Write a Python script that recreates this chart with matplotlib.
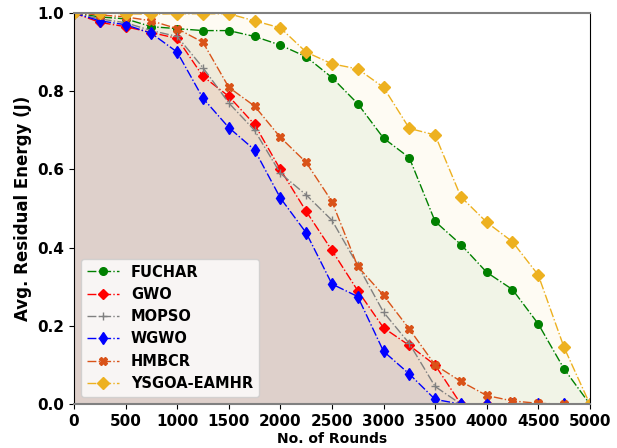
import numpy as np
import matplotlib.pyplot as plt

rounds = np.arange(0, 5001, 250)

fuchar = [1.0, 0.99, 0.985, 0.965, 0.96, 0.955, 0.955, 0.94, 0.918, 0.888, 0.835,
          0.768, 0.68, 0.63, 0.467, 0.408, 0.337, 0.293, 0.205, 0.09, 0.0]
gwo = [1.0, 0.976, 0.965, 0.95, 0.935, 0.838, 0.787, 0.715, 0.6, 0.493, 0.393,
       0.29, 0.195, 0.15, 0.1, 0.0, 0.0, 0.0, 0.0, 0.0, 0.0]
mopso = [1.0, 0.985, 0.975, 0.955, 0.94, 0.86, 0.77, 0.7, 0.59, 0.535, 0.47,
         0.355, 0.235, 0.155, 0.045, 0.0, 0.0, 0.0, 0.0, 0.0, 0.0]
wgwo = [1.0, 0.98, 0.97, 0.948, 0.9, 0.782, 0.707, 0.65, 0.527, 0.438, 0.307,
        0.275, 0.135, 0.077, 0.012, 0.0, 0.0, 0.0, 0.0, 0.0, 0.0]
hmbcr = [1.0, 0.995, 0.99, 0.98, 0.96, 0.925, 0.81, 0.762, 0.682, 0.618, 0.518,
         0.352, 0.278, 0.192, 0.1, 0.058, 0.022, 0.008, 0.002, 0.0, 0.0]
ysgoa = [1.0, 1.0, 0.998, 0.997, 0.998, 0.998, 0.998, 0.98, 0.962, 0.9, 0.87,
         0.857, 0.81, 0.705, 0.688, 0.53, 0.465, 0.415, 0.33, 0.145, 0.0]

series = [
    ('FUCHAR', fuchar, 'green', 'o', 5.5),
    ('GWO', gwo, 'red', 'D', 5.5),
    ('MOPSO', mopso, 'gray', '+', 6),
    ('WGWO', wgwo, 'blue', 'd', 6.5),
    ('HMBCR', hmbcr, '#d95319', 'X', 5.5),
    ('YSGOA-EAMHR', ysgoa, '#edb120', 'D', 6),
]

plt.rcParams['font.weight'] = 'bold'
fig, ax = plt.subplots(figsize=(6.17, 4.48), dpi=100)
fig.subplots_adjust(left=0.12, right=0.956, bottom=0.098, top=0.971)

for name, vals, col, mk, ms in series:
    ax.fill_between(rounds, vals, 0, color=col, alpha=0.05, linewidth=0)
    ax.plot(rounds, vals, linestyle='-.', color=col, marker=mk, markersize=ms,
            linewidth=1, label=name)

ax.set_xlim(0, 5000)
ax.set_ylim(0, 1.0)
ax.set_xticks(np.arange(0, 5001, 500))
ax.set_yticks(np.arange(0, 1.01, 0.2))
ax.tick_params(labelsize=11)
ax.set_xlabel('No. of Rounds', fontsize=10, fontweight='bold', labelpad=2)
ax.set_ylabel('Avg. Residual Energy (J)', fontsize=12, fontweight='bold')
ax.spines['top'].set_color('gray')
ax.spines['top'].set_linewidth(1.5)
ax.spines['bottom'].set_color('gray')
ax.spines['bottom'].set_linewidth(1.5)

leg = ax.legend(loc='lower left', prop={'weight': 'bold', 'size': 10.5},
                framealpha=0.8, handlelength=2.2)

fig.savefig('out.png', dpi=100)
